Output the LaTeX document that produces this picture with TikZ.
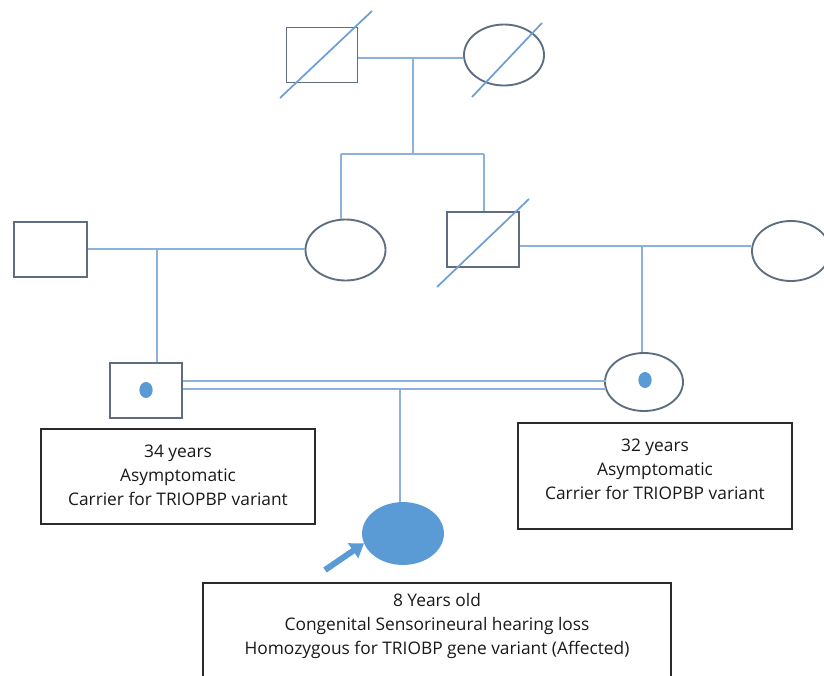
\documentclass[tikz,border=0pt]{standalone}
\usepackage{fontspec}
\setmainfont{Open Sans}
\usetikzlibrary{arrows.meta,shapes.geometric}
\definecolor{outl}{HTML}{5E6E80}
\definecolor{conn}{HTML}{8DB1DA}
\definecolor{slash}{HTML}{6E9ED6}
\definecolor{fillb}{HTML}{5B9BD5}
\definecolor{boxc}{HTML}{2B2B2B}
\tikzset{
  male/.style={draw=outl, line width=1.4pt, rectangle, minimum width=#1, minimum height=41.25pt, inner sep=0pt},
  male/.default=54pt,
  female/.style={draw=outl, line width=1.4pt, ellipse, minimum width=60pt, minimum height=45.75pt, inner sep=0pt},
  link/.style={draw=conn, line width=1.6pt},
  slashline/.style={draw=slash, line width=1.3pt},
  dot/.style={fill=fillb, draw=none, ellipse, minimum width=10pt, minimum height=12pt, inner sep=0pt},
  infobox/.style={draw=boxc, line width=1.2pt, rectangle, inner sep=0pt},
  infotext/.style={align=center, font=\fontsize{13}{18}\selectfont, text=black!90, inner sep=0pt},
}
\begin{document}
\begin{tikzpicture}[x=0.75pt,y=-0.75pt]
\useasboundingbox (0,0) rectangle (824,675);
% generation I
\node[male=53.25pt] (gf) at (322,55) {};
\node[female] (gm) at (504,55) {};
% generation II
\node[female] (aunt) at (345.5,250) {};
\node[male] (uncle) at (483,239.5) {};
\node[male=54.75pt] (lf) at (50.5,249.5) {};
\node[female, minimum width=58.5pt, minimum height=45pt] (rw) at (791,251) {};
% generation III
\node[male] (cf) at (146,390.5) {};
\node[female, minimum width=58.5pt, minimum height=43.5pt] (cm) at (644,382) {};
\node[dot] (cfdot) at (146,390) {};
\node[dot] (cmdot) at (645,380) {};
% proband
\node[female, fill=fillb, draw=fillb] (child) at (403,533.5) {};

% coordinates
\coordinate (m1) at (413,58);
\coordinate (s1) at (413,154);
\coordinate (s1l) at (341,154);
\coordinate (s1r) at (484,154);
\coordinate (m2) at (157,249);
\coordinate (m3) at (642,246);
\coordinate (m4) at (400,389);
\coordinate (gfs1) at (280,98);
\coordinate (gfs2) at (372,11);
\coordinate (gms1) at (472,97);
\coordinate (gms2) at (542,23);
\coordinate (us1) at (437,287);
\coordinate (us2) at (529,199);
\coordinate (arrtail) at (325,570);
\coordinate (arrtip) at (363,544);

% connectors
\draw[link] (gf.east |- m1) -- (gm.west |- m1);
\draw[link] (m1) -- (s1);
\draw[link] (s1l) -- (s1r);
\draw[link] (s1l) -- (aunt.north -| s1l);
\draw[link] (s1r) -- (uncle.north -| s1r);
\draw[link] (lf.east |- m2) -- (aunt.west |- m2);
\draw[link] (m2) -- (cf.north -| m2);
\draw[link] (uncle.east |- m3) -- (rw.west |- m3);
\draw[link] (m3) -- (cm.north -| m3);
% consanguineous double line
\draw[link, line width=1.3pt] (cf.east |- 0,381) -- (606,381);
\draw[link, line width=1.3pt] (cf.east |- 0,389) -- (606,389);
\draw[link] (m4) -- (child.north -| m4);

% deceased slashes
\draw[slashline] (gfs1) -- (gfs2);
\draw[slashline] (gms1) -- (gms2);
\draw[slashline] (us1) -- (us2);

% proband arrow
\draw[draw=fillb, line width=4.5pt, -{Triangle[length=10pt,width=13pt]}, shorten >=-1pt] (arrtail) -- (arrtip);

% info boxes
\node[infobox, minimum width=205.5pt, minimum height=71.25pt] (box1) at (178,476.5) {};
\node[infotext] (t1) at (178,475.5) {34 years\\Asymptomatic\\Carrier for TRIOPBP variant};
\node[infobox, minimum width=205.5pt, minimum height=79.5pt] (box2) at (655,476) {};
\node[infotext] (t2) at (655,469) {32 years\\Asymptomatic\\Carrier for TRIOPBP variant};
\node[infobox, minimum width=351pt, minimum height=90pt] (box3) at (437,643) {};
\node[infotext] (t3) at (437,625.5) {8 Years old\\Congenital Sensorineural hearing loss\\Homozygous for TRIOBP gene variant (Affected)};
\end{tikzpicture}
\end{document}
